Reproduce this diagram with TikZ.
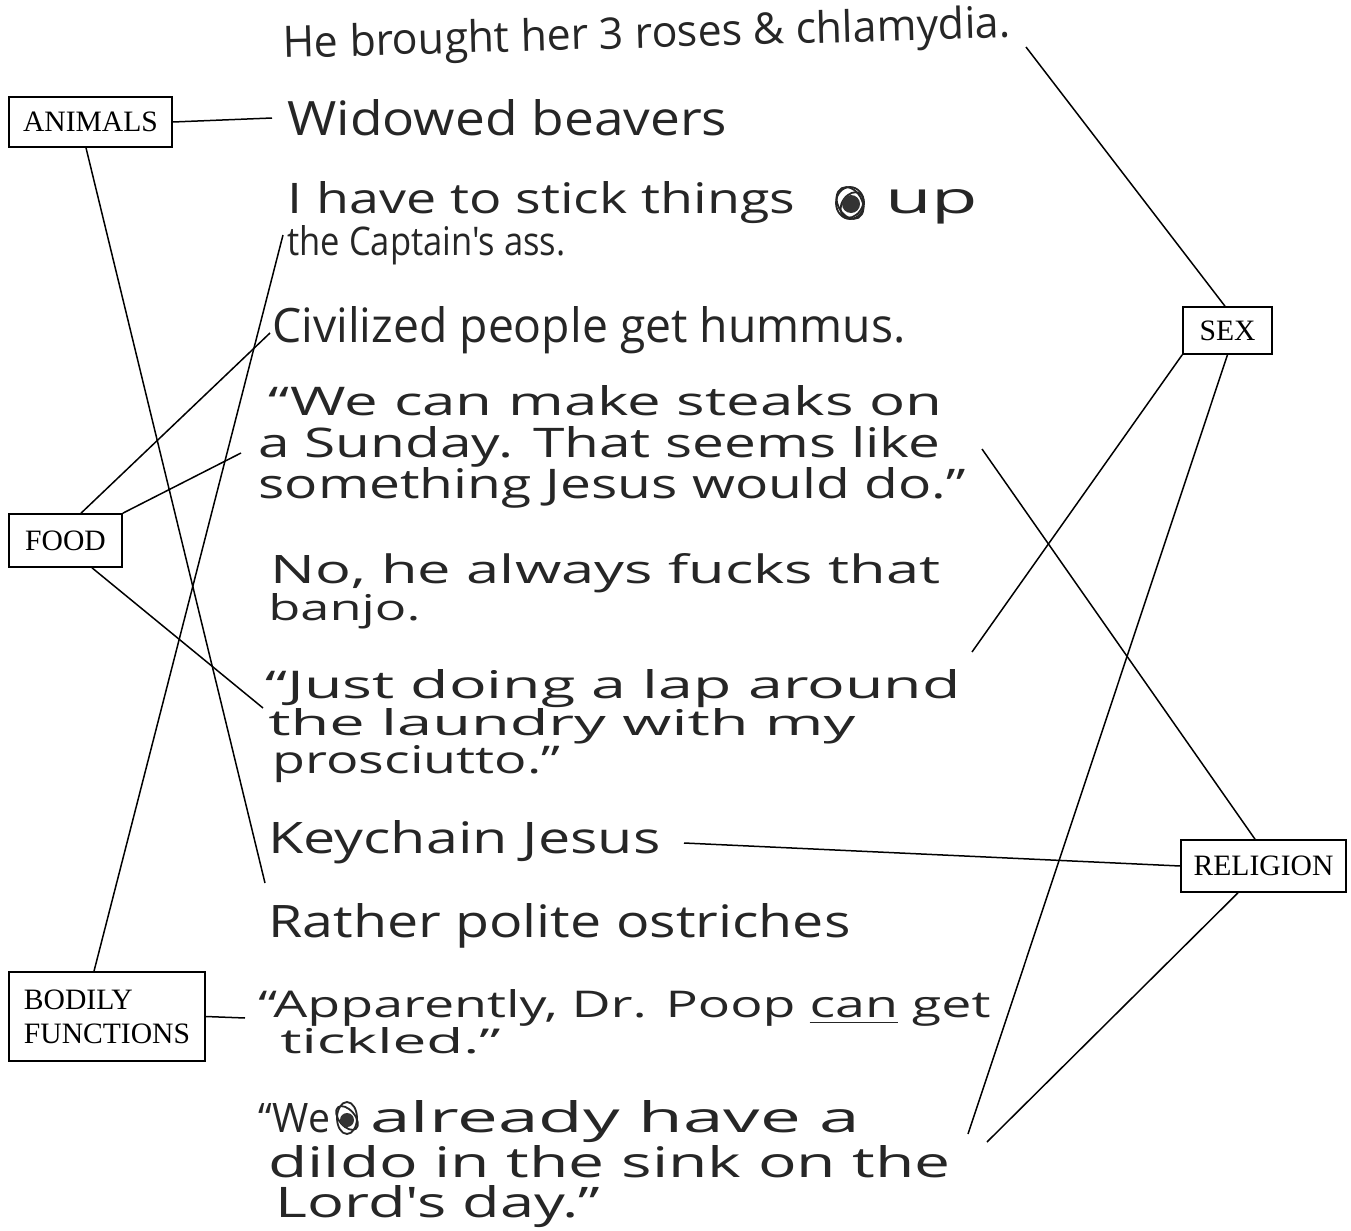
\documentclass[tikz,border=0pt]{standalone}
\usepackage{fontspec}
\usepackage{graphicx}
\setmainfont{Liberation Serif}
\newfontfamily\handf{Open Sans}
\newcommand{\fitw}[3][17]{\resizebox{#2pt}{#1pt}{\handf #3}}
\tikzset{
  box/.style={draw, line width=0.8pt, inner sep=0pt, font=\fontsize{14.8}{17}\selectfont},
  link/.style={line width=0.75pt},
  hw/.style={inner sep=0pt, anchor=base west, text=black!85},
  scrib/.style={line width=0.9pt, draw=black!85}
}
\begin{document}
\begin{tikzpicture}[x=0.5pt,y=-0.5pt]
\fill[white] (0,0) rectangle (1351,1231);
\useasboundingbox (0,0) rectangle (1351,1231);

% category boxes
\node[box, minimum width=81.5pt, minimum height=25pt] (animals) at (90.5,122) {ANIMALS};
\node[box, minimum width=56.5pt, minimum height=26.5pt] (food) at (65.5,540.5) {FOOD};
\node[box, minimum width=98pt, minimum height=44.5pt, align=left] (bodily) at (107,1016.5) {BODILY\\FUNCTIONS};
\node[box, minimum width=44.5pt, minimum height=23.5pt] (sex) at (1227.5,330.5) {SEX};
\node[box, minimum width=82.5pt, minimum height=26pt] (religion) at (1263.5,866) {RELIGION};

% handwritten lines
\node[hw, rotate=1.6] (t1) at (283,58) {\fitw[16.5]{364}{He brought her 3 roses \& chlamydia.}};
\node[hw] (t2) at (287,135) {\fitw[18]{220}{Widowed beavers}};
\node[hw] (t3a) at (287,213) {\fitw[16]{254}{I have to stick things}};
\node[hw] (t3b) at (885,213) {\fitw[12]{46.5}{up}};
\node[hw] (t3c) at (287,255) {\fitw[15]{139}{the Captain's ass.}};
\node[hw] (t4) at (272,342) {\fitw[18]{316.5}{Civilized people get hummus.}};
\node[hw] (t5a) at (268,415) {\fitw[15]{337}{“We can make steaks on}};
\node[hw] (t5b) at (258,457) {\fitw[15.5]{341}{a Sunday. That seems like}};
\node[hw] (t5c) at (258,498) {\fitw[15.5]{353.5}{something Jesus would do.”}};
\node[hw] (t6a) at (270,583) {\fitw[15]{335}{No, he always fucks that}};
\node[hw] (t6b) at (268,620) {\fitw[13.5]{76}{banjo.}};
\node[hw] (t7a) at (265,698) {\fitw[14.5]{347.5}{“Just doing a lap around}};
\node[hw] (t7b) at (268,735) {\fitw[13.5]{293.5}{the laundry with my}};
\node[hw] (t7c) at (272,773) {\fitw[14]{144}{prosciutto.”}};
\node[hw] (t8) at (268,853) {\fitw[16.5]{196}{Keychain Jesus}};
\node[hw] (t9) at (268,937) {\fitw[17]{291}{Rather polite ostriches}};
\node[hw] (t10a) at (258,1017) {\fitw[14]{366}{“Apparently, Dr. Poop \underline{can} get}};
\node[hw] (t10b) at (280,1053) {\fitw[13]{110}{tickled.”}};
\node[hw] (t11a) at (258,1132) {\fitw[14.5]{36}{“We}};
\node[hw] (t11b) at (370,1132) {\fitw[16]{245}{already have a}};
\node[hw] (t11c) at (268,1177) {\fitw[16]{341}{dildo in the sink on the}};
\node[hw] (t11d) at (275,1217) {\fitw[16]{162.5}{Lord's day.”}};

% crossed-out scribbles
\begin{scope}[scrib]
  \draw (850,203) circle[x radius=7pt, y radius=8pt];
  \draw[rotate around={30:(850,203)}] (850,203) circle[x radius=6pt, y radius=8.5pt];
  \draw[rotate around={-35:(852,205)}] (852,205) circle[x radius=5pt, y radius=7pt];
  \fill[black!80] (851,204) circle[radius=4.5pt];
  \draw (347,1118) circle[x radius=5pt, y radius=8pt];
  \draw[rotate around={40:(347,1118)}] (347,1118) circle[x radius=4pt, y radius=7pt];
  \fill[black!80] (347,1120) circle[radius=3.5pt];
\end{scope}

% free ends of connectors
\coordinate (a1) at (272,118);
\coordinate (a2) at (265,883);
\coordinate (f1) at (270,333);
\coordinate (f2) at (241,453);
\coordinate (f3) at (263,708);
\coordinate (b1) at (283,235);
\coordinate (b2) at (245,1018);
\coordinate (s1) at (1026,47);
\coordinate (s2) at (972,652);
\coordinate (s3) at (968,1134);
\coordinate (r1) at (684,843);
\coordinate (r2) at (982,449);
\coordinate (r3) at (987,1142);

% connectors
\draw[link] (animals.east) -- (a1);
\draw[link] ([xshift=-2.25pt]animals.south) -- (a2);
\draw[link] ([xshift=7.75pt]food.north) -- (f1);
\draw[link] (food.north east) -- (f2);
\draw[link] ([xshift=13.25pt]food.south) -- (f3);
\draw[link] ([xshift=-6.5pt]bodily.north) -- (b1);
\draw[link] (bodily.east) -- (b2);
\draw[link] ([xshift=-1.25pt]sex.north) -- (s1);
\draw[link] (sex.south west) -- (s2);
\draw[link] (sex.south) -- (s3);
\draw[link] (religion.west) -- (r1);
\draw[link] ([xshift=-4.25pt]religion.north) -- (r2);
\draw[link] ([xshift=-12.75pt]religion.south) -- (r3);
\end{tikzpicture}
\end{document}
